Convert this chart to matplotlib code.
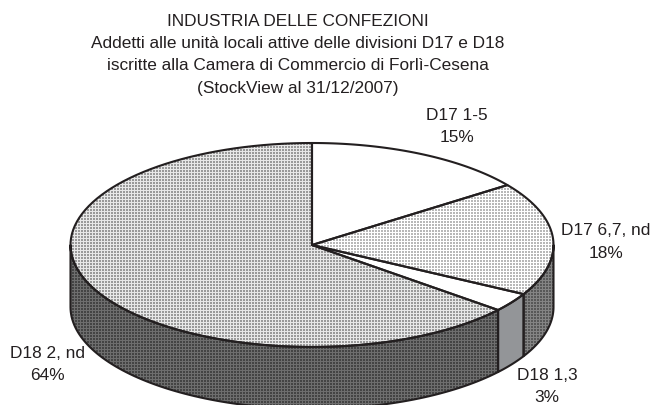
#!/usr/bin/env python3
import numpy as np
import matplotlib
matplotlib.use("Agg")
import matplotlib.pyplot as plt
from matplotlib.patches import Polygon

title_lines = [
    "INDUSTRIA DELLE CONFEZIONI",
    "Addetti alle unità locali attive delle divisioni D17 e D18",
    "iscritte alla Camera di Commercio di Forlì-Cesena",
    "(StockView al 31/12/2007)",
]
labels = ["D17 1-5", "D17 6,7, nd", "D18 1,3", "D18 2, nd"]
shares = [15, 18, 3, 64]
label_xy = [(457, 116), (606, 231), (547, 376), (47, 354)]

CX, CY, A, B, DEPTH = 312, 246, 241.5, 102, 62
FS = 12.4
LINE_GAP = 22
top_styles = [("#ffffff", None), ("#ffffff", "#b8b8b8"), ("#ffffff", None), ("#e8e8e8", "#9a9a9a")]
side_styles = [None, ("#848484", "#585858"), ("#939598", None), ("#6e6e6e", "#444444")]


def texture(light, dark):
    # small halftone cell, repeated over the whole canvas
    rgb = np.array([[int(c[i:i + 2], 16) / 255 for i in (1, 3, 5)] for c in (light, dark)])
    yy, xx = np.mgrid[0:406, 0:653]
    mask = ((xx % 3 != 2) & (yy % 3 != 2)).astype(int)
    return rgb[mask]


def rim(a0, a1, drop=0.0):
    # angles run clockwise from 12 o'clock, in degrees
    t = np.radians(np.linspace(a0, a1, 100))
    return np.column_stack([CX + A * np.sin(t), CY - B * np.cos(t) + drop])


def paint(ax, pts, light, dark):
    poly = Polygon(pts, closed=True, facecolor=light, edgecolor="none", zorder=2)
    ax.add_patch(poly)
    if dark:
        im = ax.imshow(texture(light, dark), extent=(0, 653, 406, 0), interpolation="nearest", zorder=3)
        im.set_clip_path(poly)
    ax.add_patch(Polygon(pts, closed=True, fill=False, edgecolor="#231f20", linewidth=1.5, joinstyle="round", zorder=4))


def main():
    plt.rcParams["font.family"] = ["Liberation Sans", "DejaVu Sans"]
    fig = plt.figure(figsize=(6.53, 4.06), dpi=100, facecolor="white")
    ax = fig.add_axes([0, 0, 1, 1])

    bounds = np.concatenate([[0], np.cumsum(shares)]) / np.sum(shares) * 360
    for i, share in enumerate(shares):
        a0, a1 = bounds[i], bounds[i + 1]
        # side wall is only visible on the front half of the disc
        s0, s1 = max(a0, 90), min(a1, 270)
        if side_styles[i] and s1 > s0:
            pts = np.vstack([rim(s0, s1), rim(s0, s1, DEPTH)[::-1]])
            paint(ax, pts, *side_styles[i])
    for i, share in enumerate(shares):
        a0, a1 = bounds[i], bounds[i + 1]
        pts = np.vstack([[CX, CY], rim(a0, a1)])
        paint(ax, pts, *top_styles[i])

    ax.set_xlim(0, 653)
    ax.set_ylim(406, 0)
    ax.axis("off")

    for k, line in enumerate(title_lines):
        ax.text(298, 22 + k * 22, line, ha="center", va="center", fontsize=FS, color="#231f20", zorder=5)
    for name, share, (x, y) in zip(labels, shares, label_xy):
        ax.text(x, y, name, ha="center", va="center", fontsize=FS, color="#231f20", zorder=5)
        ax.text(x, y + LINE_GAP, f"{share}%", ha="center", va="center", fontsize=FS, color="#231f20", zorder=5)

    fig.savefig("out.png", dpi=100, facecolor="white")
    plt.close(fig)
    return 0


if __name__ == "__main__":
    raise SystemExit(main())
